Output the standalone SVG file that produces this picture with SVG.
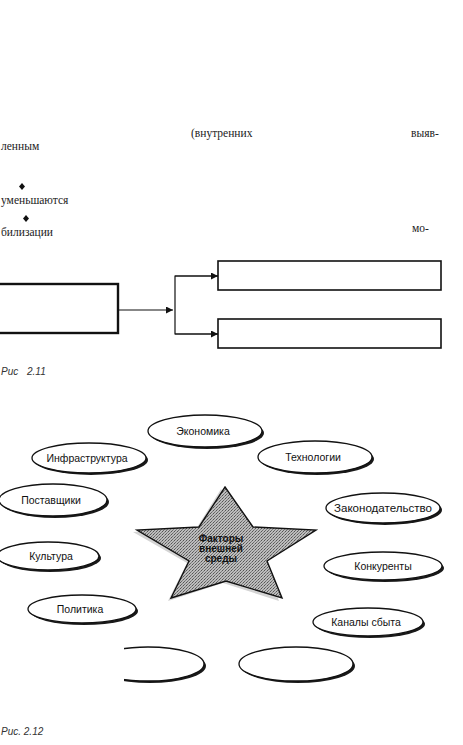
<svg xmlns="http://www.w3.org/2000/svg" width="463" height="745" viewBox="0 0 463 745">
<style>
.body{font-family:"Liberation Serif","DejaVu Serif",serif;font-size:11.5px;fill:#222}
.cap{font-family:"Liberation Sans",Arial,sans-serif;font-size:10px;font-style:italic;fill:#333}
.box{fill:#fff;stroke:#111;stroke-width:1.6}
.boxl{fill:#fff;stroke:#111;stroke-width:2.4}
.con{fill:none;stroke:#111;stroke-width:1.2}
.sh{fill:#1a1a1a}
.el{fill:#fff;stroke:#111;stroke-width:1.3}
.lbl{font-family:"Liberation Sans",Arial,sans-serif;font-size:10.5px;fill:#111;text-anchor:middle}
.star{font-family:"Liberation Sans",Arial,sans-serif;font-size:10px;font-weight:bold;fill:#111;text-anchor:middle}
</style>
<defs>
<marker id="ah" viewBox="0 0 10 10" refX="10" refY="5" markerWidth="9" markerHeight="7" markerUnits="userSpaceOnUse" orient="auto">
<path d="M0,0 L10,5 L0,10 z" fill="#111"/>
</marker>
<pattern id="dither" width="3" height="3" patternUnits="userSpaceOnUse">
<rect width="3" height="3" fill="#bcbcbc"/>
<rect x="0" y="0" width="1" height="1" fill="#555"/>
<rect x="2" y="1" width="1" height="1" fill="#808080"/>
<rect x="1" y="2" width="1" height="1" fill="#6a6a6a"/>
</pattern>
<clipPath id="clipBL"><rect x="118" y="630" width="120" height="70"/></clipPath>
</defs>
<rect width="463" height="745" fill="#fff"/>

<g id="text">
<text class="body" x="191" y="137">(внутренних</text>
<text class="body" x="411" y="137">выяв-</text>
<text class="body" x="1" y="150">ленным</text>
<path d="M22,183 L25,186.5 L22,190 L19,186.5 z" fill="#111"/>
<text class="body" x="1" y="204">уменьшаются</text>
<path d="M26,215 L29,218.5 L26,222 L23,218.5 z" fill="#111"/>
<text class="body" x="412" y="232">мо-</text>
<text class="body" x="1" y="236">билизации</text>
</g>

<g id="fig211">
<g id="n_left"><rect class="boxl" x="-10" y="284" width="128" height="49"/></g>
<g id="n_top"><rect class="box" x="218" y="261" width="223" height="29"/></g>
<g id="n_bottom"><rect class="box" x="218" y="319" width="223" height="29"/></g>
<g id="connectors211">
<line class="con" x1="118" y1="310" x2="173" y2="310" marker-end="url(#ah)"/>
<polyline class="con" points="218,276 175,276 175,334 218,334"/>
<line class="con" x1="175" y1="276" x2="218" y2="276" marker-end="url(#ah)"/>
<line class="con" x1="175" y1="334" x2="218" y2="334" marker-end="url(#ah)"/>
</g>
<text class="cap" x="1" y="375">Рис<tspan x="27">2.11</tspan></text>
</g>

<g id="fig212">
<g id="star">
<polygon points="221,489 250,529 312,532 264,563 279,601 223,583 168,601 187,563 133,532 196,529" fill="#d4d4d4"/>
<polygon points="225,487 253,527 316,530 267,561 282,598 226,581 171,598 189,561 137,530 199,527" fill="url(#dither)" stroke="#111" stroke-width="1.4"/>
<text class="star" x="221" y="542">Факторы</text>
<text class="star" x="221" y="552">внешней</text>
<text class="star" x="221" y="562">среды</text>
</g>
<g id="e_econ"><ellipse class="sh" cx="207" cy="433" rx="57" ry="16"/><ellipse class="el" cx="205" cy="431" rx="57" ry="16"/><text class="lbl" x="203" y="435">Экономика</text></g>
<g id="e_tech"><ellipse class="sh" cx="317" cy="459" rx="57" ry="16"/><ellipse class="el" cx="315" cy="457" rx="57" ry="16"/><text class="lbl" x="313" y="461">Технологии</text></g>
<g id="e_infra"><ellipse class="sh" cx="91" cy="460" rx="57" ry="15"/><ellipse class="el" cx="89" cy="458" rx="57" ry="15"/><text class="lbl" x="87" y="462">Инфраструктура</text></g>
<g id="e_supp"><ellipse class="sh" cx="55" cy="502" rx="54" ry="16"/><ellipse class="el" cx="53" cy="500" rx="54" ry="16"/><text class="lbl" x="51" y="504">Поставщики</text></g>
<g id="e_cult"><ellipse class="sh" cx="50" cy="558" rx="51" ry="14"/><ellipse class="el" cx="48" cy="556" rx="51" ry="14"/><text class="lbl" x="51" y="560">Культура</text></g>
<g id="e_pol"><ellipse class="sh" cx="84" cy="611" rx="54" ry="14"/><ellipse class="el" cx="82" cy="609" rx="54" ry="14"/><text class="lbl" x="80" y="613">Политика</text></g>
<g id="e_law"><ellipse class="sh" cx="385" cy="510" rx="57" ry="15"/><ellipse class="el" cx="383" cy="508" rx="57" ry="15"/><text class="lbl" x="383" y="512" textLength="98" lengthAdjust="spacingAndGlyphs">Законодательство</text></g>
<g id="e_comp"><ellipse class="sh" cx="385" cy="568" rx="59" ry="14"/><ellipse class="el" cx="383" cy="566" rx="59" ry="14"/><text class="lbl" x="383" y="570">Конкуренты</text></g>
<g id="e_chan"><ellipse class="sh" cx="370" cy="624" rx="55" ry="14"/><ellipse class="el" cx="368" cy="622" rx="55" ry="14"/><text class="lbl" x="366" y="626">Каналы сбыта</text></g>
<g id="e_bl" clip-path="url(#clipBL)"><ellipse class="sh" cx="150" cy="666" rx="56" ry="17"/><ellipse class="el" cx="148" cy="664" rx="56" ry="17"/><rect x="100" y="640" width="24" height="50" fill="#fff"/></g>
<g id="e_br"><ellipse class="sh" cx="298" cy="666" rx="57" ry="17"/><ellipse class="el" cx="296" cy="664" rx="57" ry="17"/></g>
<text class="cap" x="1" y="735">Рис. 2.12</text>
</g>
</svg>
